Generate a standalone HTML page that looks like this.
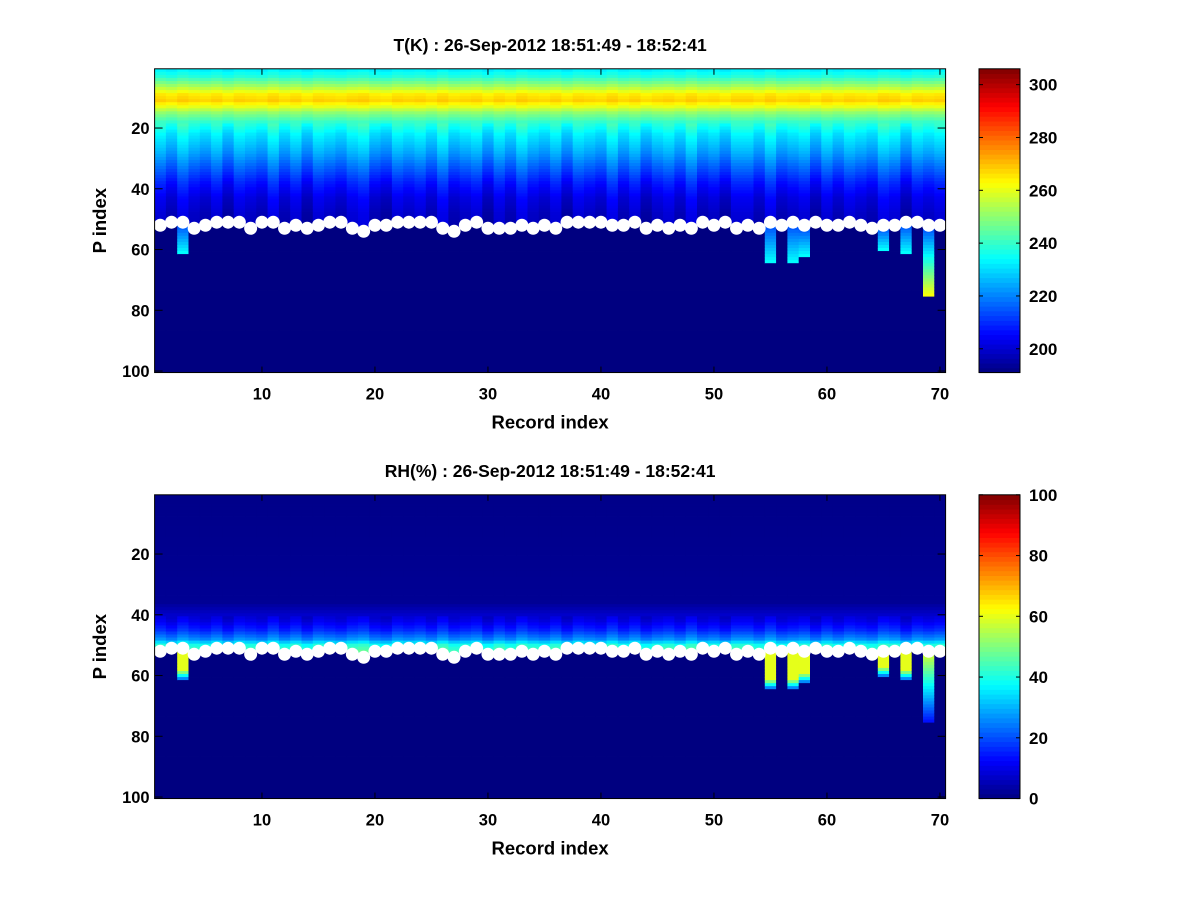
<!DOCTYPE html>
<html><head><meta charset="utf-8">
<style>
html,body{margin:0;padding:0;background:#fff;}
svg{display:block;font-family:"Liberation Sans",sans-serif;font-weight:bold;}
</style></head>
<body>
<svg id="fig" width="1200" height="900" viewBox="0 0 1200 900" xmlns="http://www.w3.org/2000/svg">
<rect width="1200" height="900" fill="#fff"/>
</svg>
<script>
// ---- data ----
const records = Array.from({length:70},(_,i)=>i+1);
const dotP = [52,51,51,53,52,51,51,51,53,51,51,53,52,53,52,51,51,53,54,52,52,51,51,51,51,53,54,52,51,53,53,53,52,53,52,
              53,51,51,51,51,52,52,51,53,52,53,52,53,51,52,51,53,52,53,51,52,51,52,51,52,52,51,52,53,52,52,51,51,52,52];
const stripeEnd = {3:61,55:64,57:64,58:62,65:60,67:61,69:75};
const tProfileKnots = [[1,233],[3,238],[5,247],[7,256],[9,265],[11,268],[13,260],[15,250],[18,240],[22,232],[28,224],[33,216],[38,208],[43,202],[48,199],[52,198]];
const tOffset = [1,-1,2,0,-1,1,-2,1,0,-1,2,-1,1,-2,1,0,-1,1,2,-1,-2,1,0,1,-1,2,-1,0,1,-2,1,-1,2,0,-1,
                 1,-2,1,0,-1,2,-1,1,-2,0,1,-1,2,-1,0,-2,1,1,-1,2,-1,0,1,-2,1,-1,1,0,-1,2,1,-2,1,0,1];
const rhProfileKnots = [[1,1],[36,2],[39,6],[42,10],[45,16],[48,26],[50,40],[52,45]];
const tStripeTop = 212, tStripeBot = 234, t69Bot = 262;
const rhStripe = 60, rh69Bot = 14;
const tTicks=[200,220,240,260,280,300], rhTicks=[0,20,40,60,80,100];
const xTicks=[10,20,30,40,50,60,70], yTicks=[20,40,60,80,100];
const tRange=[191,306], rhRange=[0,100];

// ---- helpers ----
const NS="http://www.w3.org/2000/svg", fig=document.getElementById('fig');
function mk(tag,attrs,parent){const e=document.createElementNS(NS,tag);for(const k in attrs)e.setAttribute(k,attrs[k]);(parent||fig).appendChild(e);return e;}
function jet(t){t=Math.max(0,Math.min(1,t));const c=v=>Math.round(255*Math.max(0,Math.min(1,v)));
 return `rgb(${c(1.5-Math.abs(4*t-3))},${c(1.5-Math.abs(4*t-2))},${c(1.5-Math.abs(4*t-1))})`;}
function interp(knots,p){if(p<=knots[0][0])return knots[0][1];for(let i=1;i<knots.length;i++){if(p<=knots[i][0]){const[a,va]=knots[i-1],[b,vb]=knots[i];return va+(vb-va)*(p-a)/(b-a);}}return knots[knots.length-1][1];}

const X0=154.6, DX=11.3, DY=3.0375;
const xs=r=>X0+(r-0.5)*DX;
function panel(top,title,field,range,cticks,name){
 const ys=p=>top+(p-0.5)*DY;
 const g=mk('g',{});  
 const norm=v=>(v-range[0])/(range[1]-range[0]);
 records.forEach((r,i)=>{
  for(let p=1;p<=100;p++){
   const v=field(r,i,p);
   const c=mk('rect',{x:xs(r-0.5).toFixed(2),y:ys(p-0.5).toFixed(2),width:(DX+0.4).toFixed(2),height:(DY+0.4).toFixed(2),fill:jet(norm(v))},g);
   
   
  }
 });
 const dg=mk('g',{});  
 records.forEach((r,i)=>{const d=mk('circle',{cx:xs(r),cy:ys(dotP[i]),r:6.5,fill:'#fff'},dg);
  
  });
 const L=xs(0.5),R=xs(70.5),T=ys(0.5),B=ys(100.5);
 const ax=mk('rect',{x:L,y:T,width:R-L,height:B-T,fill:'none',stroke:'#000','stroke-width':1});
  
 xTicks.forEach(v=>{mk('line',{x1:xs(v),x2:xs(v),y1:T,y2:T+6,stroke:'#000'});mk('line',{x1:xs(v),x2:xs(v),y1:B,y2:B-6,stroke:'#000'});
  const t=mk('text',{x:xs(v),y:B+27,'text-anchor':'middle','font-size':16.5});t.textContent=v;
   });
 yTicks.forEach(v=>{mk('line',{x1:L,x2:L+8,y1:ys(v),y2:ys(v),stroke:'#000'});mk('line',{x1:R,x2:R-8,y1:ys(v),y2:ys(v),stroke:'#000'});
  const t=mk('text',{x:L-5,y:ys(v)+6,'text-anchor':'end','font-size':16.5});t.textContent=v;
   });
 const tt=mk('text',{x:(L+R)/2,y:T-18,'text-anchor':'middle','font-size':17.5});tt.textContent=title;
  
 const xl=mk('text',{x:(L+R)/2,y:B+56,'text-anchor':'middle','font-size':18.5});xl.textContent='Record index';
  
 const yl=mk('text',{x:0,y:0,'text-anchor':'middle','font-size':18.5,transform:`translate(106,${(T+B)/2}) rotate(-90)`});yl.textContent='P index';
  
 // colorbar
 const cx0=979,cx1=1020,cb=mk('g',{});  
 const n=64,h=(B-T)/n;
 for(let k=0;k<n;k++){mk('rect',{x:cx0,y:(B-(k+1)*h).toFixed(2),width:cx1-cx0,height:(h+0.5).toFixed(2),fill:jet((k+0.5)/n)},cb);}
 mk('rect',{x:cx0,y:T,width:cx1-cx0,height:B-T,fill:'none',stroke:'#000'},cb);
 const cy=v=>B-(v-range[0])/(range[1]-range[0])*(B-T);
 cticks.forEach(v=>{mk('line',{x1:cx0,x2:cx0+4,y1:cy(v),y2:cy(v),stroke:'#000'},cb);mk('line',{x1:cx1,x2:cx1-4,y1:cy(v),y2:cy(v),stroke:'#000'},cb);
  const t=mk('text',{x:cx1+9,y:cy(v)+6,'font-size':17},cb);t.textContent=v;
   });
}
function tField(r,i,p){
 const d=dotP[i];
 if(p<=d) return interp(tProfileKnots,p)+tOffset[i]*(p>18?2:0.6);
 const e=stripeEnd[r];
 if(e&&p<=e){const f=(p-d)/(e-d);return tStripeTop+f*((r===69?t69Bot:tStripeBot)-tStripeTop);}
 return 150;
}
function rhField(r,i,p){
 const d=dotP[i];
 if(p<=d) return Math.max(0,interp(rhProfileKnots,p)+tOffset[i]*(p>40?1.2:0));
 const e=stripeEnd[r];
 if(e&&p<=e){
  if(r===69){const f=(p-d)/(e-d);return rhStripe+f*(rh69Bot-rhStripe);}
  const left=e-p; return left>=3?rhStripe:(left===2?50:(left===1?38:26));
 }
 return 0;
}
panel(68.8,'T(K) : 26-Sep-2012 18:51:49 - 18:52:41',tField,tRange,tTicks,'temperature');
panel(494.8,'RH(%) : 26-Sep-2012 18:51:49 - 18:52:41',rhField,rhRange,rhTicks,'humidity');
</script>
</body></html>
